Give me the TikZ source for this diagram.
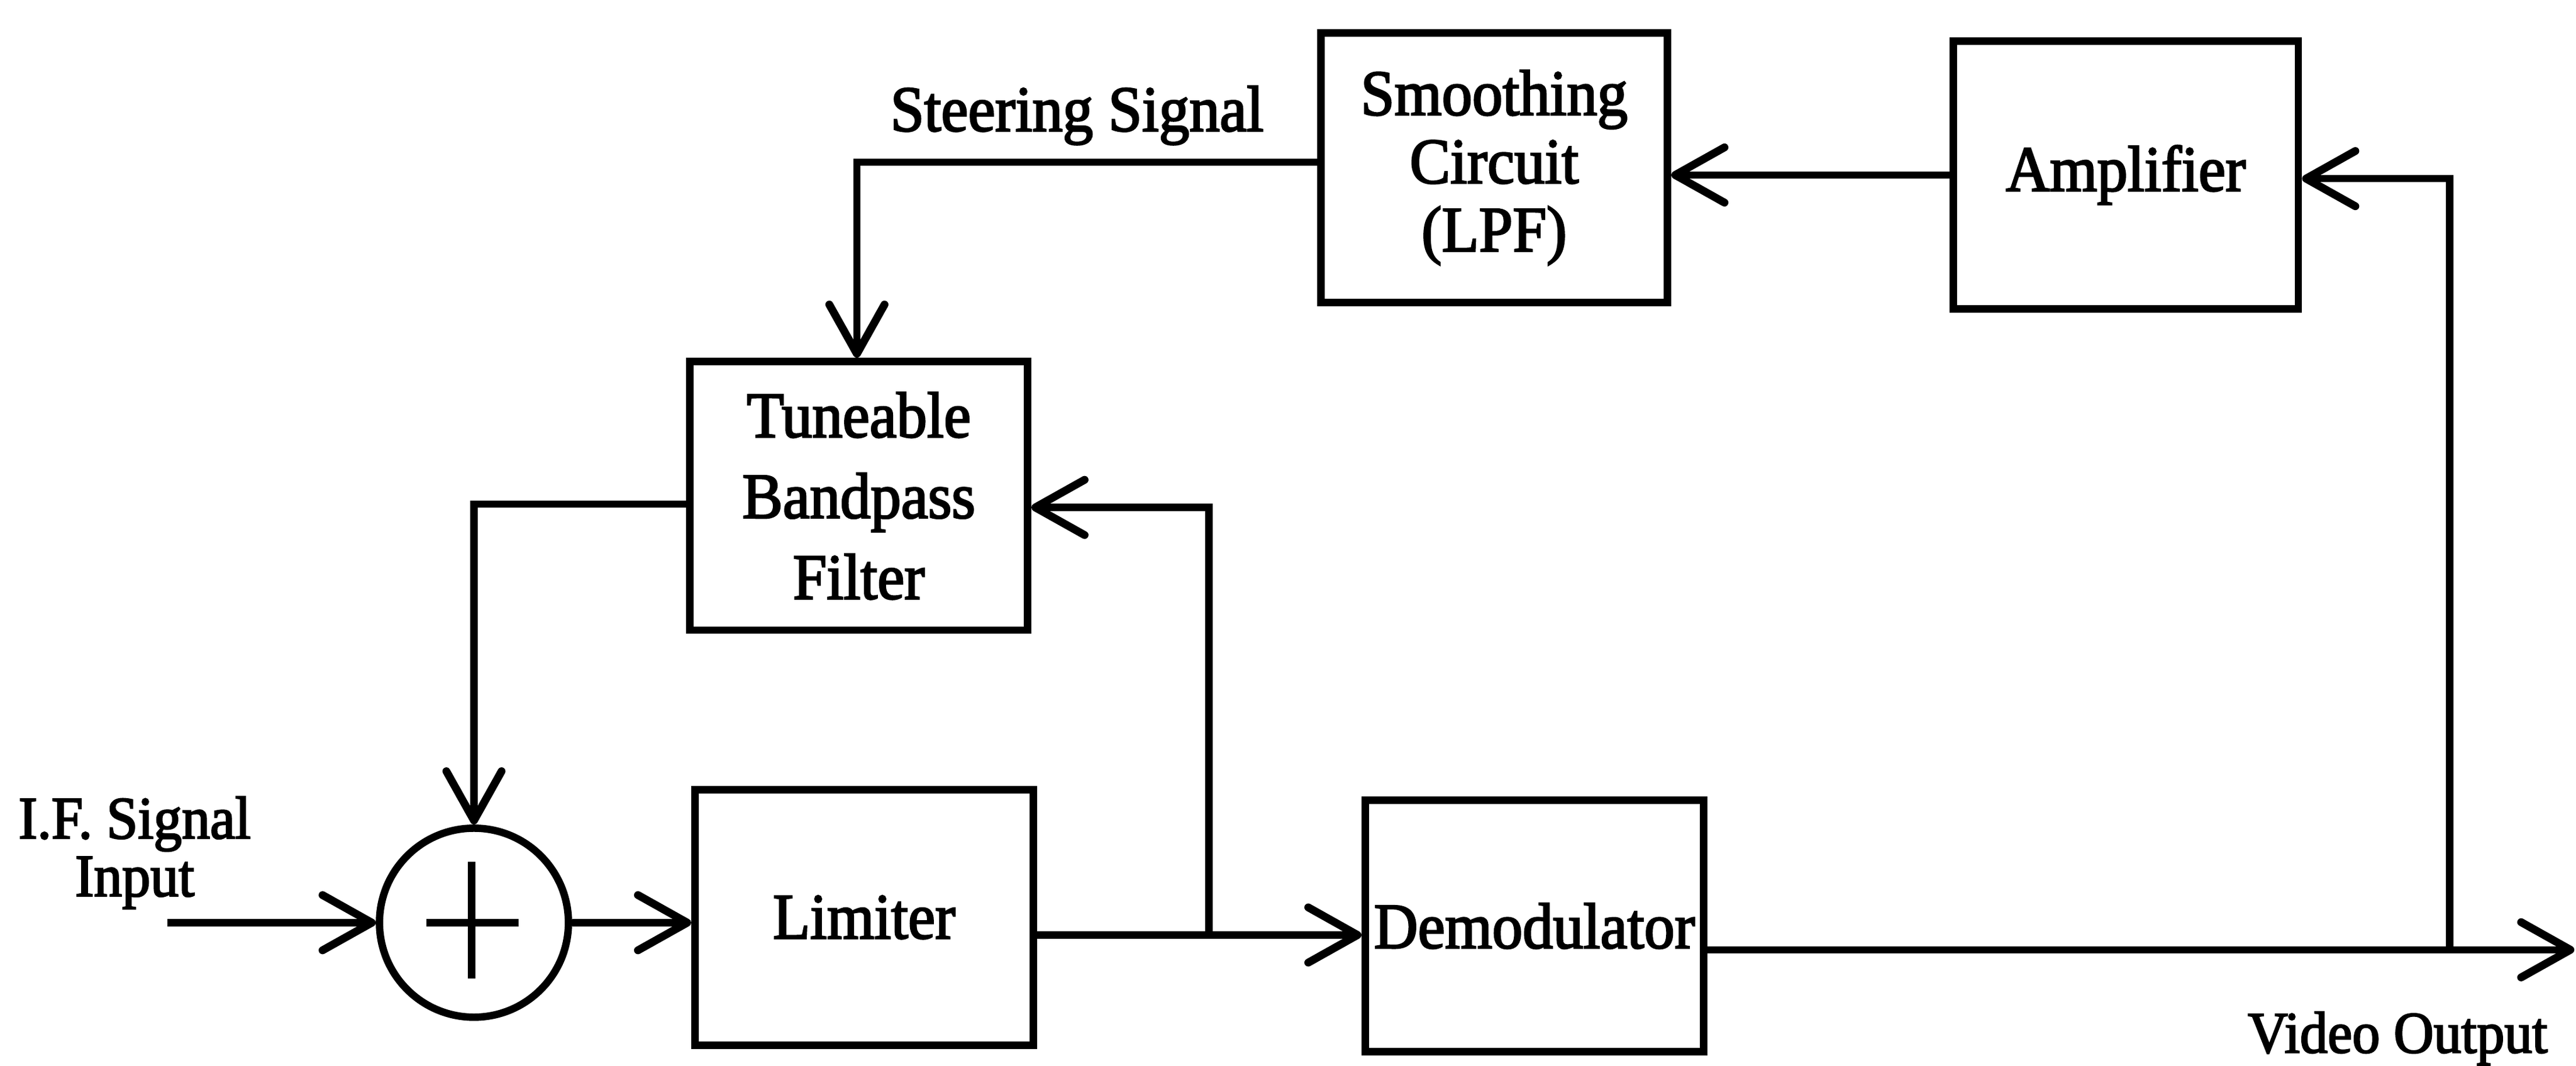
\documentclass[tikz,border=0pt]{standalone}
\usepackage{fontspec}
\setmainfont{Liberation Serif}[FakeStretch=0.94,FakeBold=2.5]
\usetikzlibrary{arrows.meta,calc}
\begin{document}
\begin{tikzpicture}[x=0.025cm,y=-0.025cm,
  line width=3.2pt,
  >={Straight Barb[length=0.75cm,width=0.84cm,line width=3.4pt,round]},
  box/.style={draw,line width=3.2pt,inner sep=0pt,align=center,
              font=\fontsize{28}{33}\selectfont},
  lbl/.style={inner sep=0pt,font=\fontsize{28}{33}\selectfont},
  sumnode/.style={draw,circle,line width=3.2pt,inner sep=0pt,minimum size=2.875cm}]
\useasboundingbox (0,0) rectangle (1568,648.7);

% blocks
\node[box,minimum width=5.275cm,minimum height=4.1cm,
      font=\fontsize{28}{29.5}\selectfont] (smooth) at (909.5,102) {Smoothing\\Circuit\\(LPF)};
\node[box,minimum width=5.25cm,minimum height=4.075cm] (amp) at (1294,106.5) {Amplifier};
\node[box,minimum width=5.1375cm,minimum height=4.0875cm,
      font=\fontsize{28}{35}\selectfont] (tune) at (522.75,301.75) {Tuneable\\Bandpass\\Filter};
\node[box,minimum width=5.15cm,minimum height=3.8875cm] (lim) at (526,558.25) {Limiter};
\node[box,minimum width=5.15cm,minimum height=3.825cm] (dem) at (934,563.5) {Demodulator};
\node[sumnode] (sum) at (288.5,561.5) {};

% plus sign in summer
\draw ($(sum.center)+(-29,0)$) -- ($(sum.center)+(27,0)$);
\draw ($(sum.center)+(-1.5,-37)$) -- ($(sum.center)+(-1.5,34)$);

% labels
\node[lbl,anchor=base] (steer) at (655.6,79.7) {Steering Signal};
\node[lbl,anchor=base,font=\fontsize{25.5}{30}\selectfont] (vid) at (1459.5,640.6) {Video Output};
\node[lbl,align=center,font=\fontsize{26}{25}\selectfont] (iflbl) at (82,519) {I.F. Signal\\Input};

% junction coordinates
\coordinate (ifin) at (102,561.5);
\coordinate (jl) at (736,569);
\coordinate (tr) at (736,308.8);
\coordinate (tl) at (288.5,306.8);
\coordinate (st) at (521.6,98.7);
\coordinate (jv) at (1491,578);
\coordinate (ja) at (1491,108.7);
\coordinate (vout) at (1567,578);

% connectors
\draw[->] (ifin) -- (sum.west);
\draw[->] (sum.east) -- (lim.west |- sum.east);
\draw[->] (lim.east |- jl) -- (dem.west |- jl);
\draw[->] (jl) -- (tr) -- (tune.east |- tr);
\draw[->] (tune.west |- tl) -- (tl) -- (sum.north);
\draw[->] (smooth.west |- st) -- (st) -- (st |- tune.north);
\draw[->] (amp.west) -- (smooth.east |- amp.west);
\draw[->] (dem.east |- jv) -- (vout);
\draw[->] (jv) -- (ja) -- (amp.east |- ja);
\end{tikzpicture}
\end{document}
